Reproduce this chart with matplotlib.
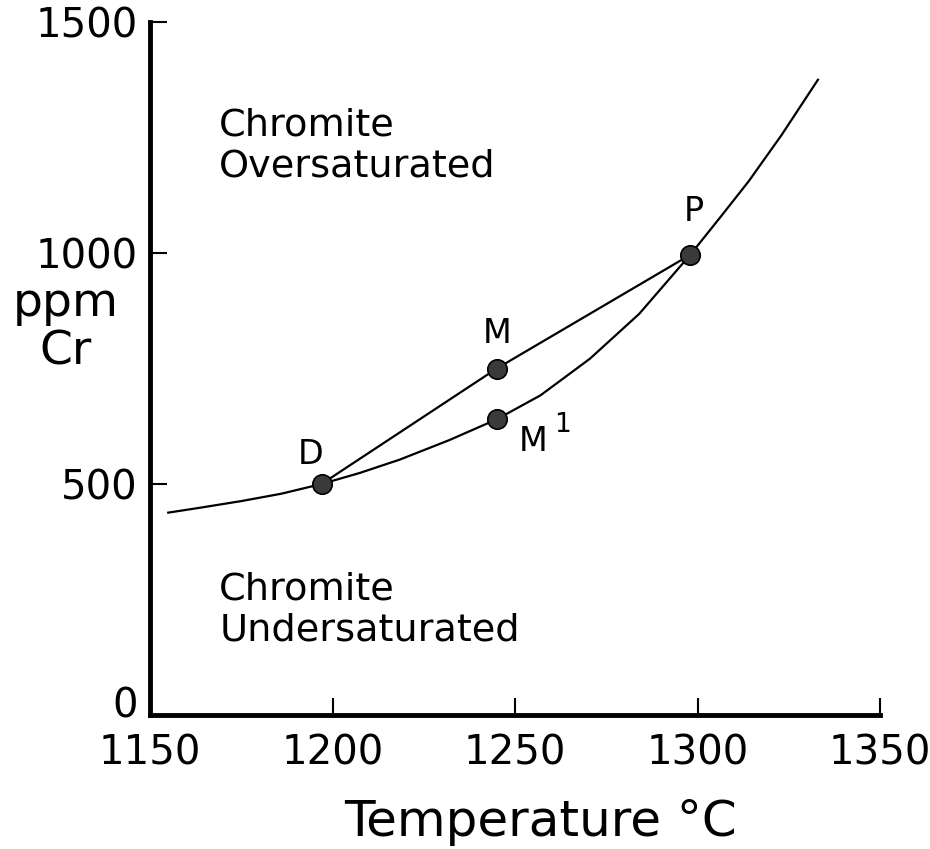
import matplotlib
matplotlib.use("Agg")
import matplotlib.pyplot as plt
import matplotlib.transforms as mtransforms

# saturation curve
curve_t = [1155, 1164, 1175, 1186, 1197, 1207.5, 1218.5, 1232, 1245,
           1257, 1270.5, 1284, 1298, 1306, 1314, 1323, 1333]
curve_cr = [438, 449, 463, 479, 500, 524, 553, 595, 640,
            692, 771, 868, 996, 1075, 1155, 1255, 1375]

# mixing line D - M - P
mix_t = [1197, 1245, 1298]
mix_cr = [500, 750, 996]

# labelled points
pt_names = ["D", "M", "M1", "P"]
pt_t = [1197, 1245, 1245, 1298]
pt_cr = [500, 750, 640, 996]

xticks = [1150, 1200, 1250, 1300, 1350]
yticks = [0, 500, 1000, 1500]

plt.rcParams['font.family'] = ['DejaVu Sans']

fig = plt.figure(figsize=(9.3, 8.49), dpi=100)
ax = fig.add_axes([150/930, 1-715/849, 730/930, 693/849])

ax.plot(curve_t, curve_cr, '-', color='black', lw=1.6)
ax.plot(mix_t, mix_cr, '-', color='black', lw=1.6)
ax.plot(pt_t, pt_cr, 'o', ms=14, mfc='#3a3a3a', mec='black', mew=1.2, zorder=5)

ax.text(1194, 564, "D", fontsize=24, ha='center', va='center')
ax.text(1245, 826, "M", fontsize=24, ha='center', va='center')
ax.text(1255, 592, "M", fontsize=24, ha='center', va='center')
ax.text(1263, 628, "1", fontsize=19, ha='center', va='center')
ax.text(1299, 1090, "P", fontsize=24, ha='center', va='center')

ax.text(1169, 1232, "Chromite\nOversaturated", fontsize=27.5, ha='left', va='center',
        linespacing=1.2)
ax.text(1169, 227, "Chromite\nUndersaturated", fontsize=27.5, ha='left', va='center',
        linespacing=1.2)

ax.set_xlim(1150, 1350)
ax.set_ylim(0, 1500)
ax.set_xticks(xticks)
ax.set_yticks(yticks)
ax.tick_params(direction='in', length=12, width=1.5, labelsize=29, pad=9)
ax.tick_params(axis='x', pad=13)
ax.spines['top'].set_visible(False)
ax.spines['right'].set_visible(False)
ax.spines['left'].set_linewidth(3.5)
ax.spines['bottom'].set_linewidth(3.5)

# lift the "0" label a little, as in the original
zero_lbl = ax.get_yticklabels()[0]
zero_lbl.set_transform(zero_lbl.get_transform() +
                       mtransforms.ScaledTranslation(0, 9/72, fig.dpi_scale_trans))

fig.text(66/930, 1-328/849, "ppm\nCr", fontsize=34, ha='center', va='center',
         linespacing=1.1)
fig.text(540/930, 1-822/849, "Temperature °C", fontsize=36, ha='center', va='center')

fig.savefig("out.png", dpi=100, facecolor='white')
